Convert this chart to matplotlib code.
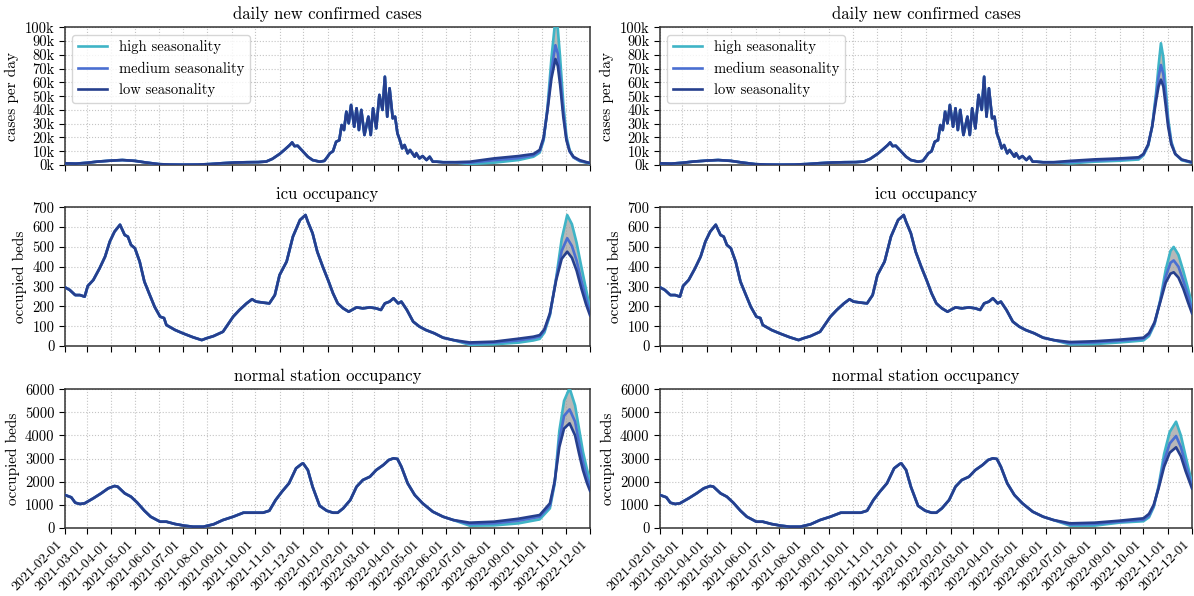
import matplotlib
matplotlib.use("Agg")
import matplotlib.pyplot as plt
import matplotlib.dates as mdates
from matplotlib.ticker import FuncFormatter, MultipleLocator
import pandas as pd

plt.rcParams['font.family'] = 'serif'
plt.rcParams['font.serif'] = ['cmr10']
plt.rcParams['axes.formatter.use_mathtext'] = True
plt.rcParams['mathtext.fontset'] = 'cm'

# ---- shared history (same in both columns) ----
case_hist_dates = ["2021-02-01", "2021-02-15", "2021-03-01", "2021-03-15", "2021-04-01", "2021-04-15",
                   "2021-05-01", "2021-05-15", "2021-06-01", "2021-06-15", "2021-07-01", "2021-07-20",
                   "2021-08-05", "2021-08-20", "2021-09-05", "2021-09-20", "2021-10-05", "2021-10-15",
                   "2021-10-23", "2021-11-01", "2021-11-07", "2021-11-14", "2021-11-17", "2021-11-20",
                   "2021-11-24", "2021-12-01", "2021-12-07", "2021-12-13", "2021-12-22", "2021-12-28",
                   "2022-01-01", "2022-01-04", "2022-01-08", "2022-01-12", "2022-01-16", "2022-01-19",
                   "2022-01-22", "2022-01-25", "2022-01-28", "2022-01-31", "2022-02-04", "2022-02-07",
                   "2022-02-10", "2022-02-13", "2022-02-17", "2022-02-22", "2022-02-25", "2022-02-28",
                   "2022-03-04", "2022-03-08", "2022-03-12", "2022-03-15", "2022-03-18", "2022-03-21",
                   "2022-03-25", "2022-03-28", "2022-03-31", "2022-04-03", "2022-04-06", "2022-04-09",
                   "2022-04-13", "2022-04-16", "2022-04-22", "2022-04-24", "2022-04-28", "2022-05-02",
                   "2022-05-07", "2022-05-11", "2022-05-15", "2022-05-20", "2022-05-28", "2022-06-10"]
case_hist = [1.2, 1.0, 1.6, 2.5, 3.2, 3.6,
             3.0, 1.8, 0.6, 0.3, 0.2, 0.3,
             0.7, 1.3, 1.8, 2.0, 2.1, 2.5,
             4.5, 8.0, 10.9, 14.5, 16.4, 13.7,
             14.0, 9.7, 6.0, 3.6, 2.4, 3.0,
             6.0, 8.5, 10.0, 16.9, 18.0, 29.0,
             25.4, 38.7, 30.3, 43.6, 27.8, 41.2,
             25.4, 40.0, 21.8, 35.1, 21.8, 41.2,
             26.6, 50.9, 40.0, 64.1, 35.1, 55.7,
             33.9, 35.1, 23.0, 18.2, 12.1, 14.5,
             8.5, 10.9, 6.0, 8.5, 4.8, 6.5,
             3.6, 6.0, 2.4, 2.4, 2.0, 2.0]

icu_hist_dates = ["2021-02-01", "2021-02-07", "2021-02-14", "2021-02-20", "2021-02-26", "2021-03-02",
                  "2021-03-09", "2021-03-17", "2021-03-24", "2021-03-30", "2021-04-05", "2021-04-12",
                  "2021-04-18", "2021-04-22", "2021-04-26", "2021-05-01", "2021-05-07", "2021-05-13",
                  "2021-05-19", "2021-05-26", "2021-06-02", "2021-06-07", "2021-06-10", "2021-06-21",
                  "2021-07-01", "2021-07-14", "2021-07-25", "2021-07-31", "2021-08-09", "2021-08-21",
                  "2021-09-03", "2021-09-11", "2021-09-20", "2021-09-27", "2021-10-02", "2021-10-11",
                  "2021-10-19", "2021-10-26", "2021-11-01", "2021-11-10", "2021-11-18", "2021-11-27",
                  "2021-12-04", "2021-12-07", "2021-12-13", "2021-12-19", "2021-12-26", "2022-01-02",
                  "2022-01-08", "2022-01-14", "2022-01-21", "2022-01-28", "2022-02-07", "2022-02-15",
                  "2022-02-24", "2022-03-04", "2022-03-10", "2022-03-15", "2022-03-21", "2022-03-26",
                  "2022-04-01", "2022-04-05", "2022-04-12", "2022-04-20", "2022-04-28", "2022-05-06",
                  "2022-05-17", "2022-05-28", "2022-06-10"]
icu_hist = [296, 283, 257, 257, 249, 303,
            333, 392, 451, 527, 577, 612,
            560, 552, 510, 493, 426, 325,
            266, 198, 148, 141, 106, 81,
            64, 44, 30, 39, 50, 72,
            148, 182, 215, 236, 224, 219,
            215, 257, 358, 426, 552, 636,
            661, 627, 569, 476, 400, 330,
            266, 215, 190, 173, 195, 190,
            195, 190, 182, 215, 224, 241,
            215, 224, 182, 123, 98, 81,
            64, 42, 30]

ward_hist_dates = ["2021-02-01", "2021-02-09", "2021-02-14", "2021-02-20", "2021-02-26", "2021-03-09",
                   "2021-03-19", "2021-03-28", "2021-04-05", "2021-04-09", "2021-04-18", "2021-04-26",
                   "2021-05-04", "2021-05-13", "2021-05-21", "2021-06-02", "2021-06-10", "2021-06-21",
                   "2021-07-03", "2021-07-14", "2021-07-27", "2021-08-09", "2021-08-21", "2021-09-03",
                   "2021-09-16", "2021-09-29", "2021-10-11", "2021-10-19", "2021-10-27", "2021-11-04",
                   "2021-11-13", "2021-11-22", "2021-11-29", "2021-12-01", "2021-12-07", "2021-12-13",
                   "2021-12-22", "2021-12-31", "2022-01-08", "2022-01-14", "2022-01-21", "2022-01-30",
                   "2022-02-07", "2022-02-15", "2022-02-24", "2022-03-04", "2022-03-13", "2022-03-20",
                   "2022-03-26", "2022-03-31", "2022-04-05", "2022-04-13", "2022-04-22", "2022-05-02",
                   "2022-05-15", "2022-05-28", "2022-06-10"]
ward_hist = [1417, 1317, 1084, 1027, 1057, 1274,
             1490, 1707, 1807, 1780, 1490, 1343,
             1084, 737, 477, 260, 260, 160,
             87, 43, 43, 147, 333, 477,
             650, 650, 650, 737, 1200, 1560,
             1924, 2575, 2761, 2790, 2500, 1777,
             950, 737, 650, 650, 840, 1200,
             1777, 2068, 2211, 2500, 2718, 2935,
             3008, 2980, 2645, 1924, 1417, 1057,
             694, 477, 333]

# ---- scenario projections, left column ----
case_left_dates = ["2022-06-10", "2022-07-01", "2022-08-01", "2022-09-01", "2022-09-20", "2022-09-28",
                   "2022-10-03", "2022-10-08", "2022-10-13", "2022-10-18", "2022-10-21", "2022-10-24",
                   "2022-10-28", "2022-11-01", "2022-11-05", "2022-11-10", "2022-11-18", "2022-11-27",
                   "2022-12-01"]
case_left_low = [2.0, 2.4, 4.8, 6.5, 8.0, 11.0, 20.0, 40.0, 63.0, 77.0, 72.0, 58.0, 35.0, 18.0, 10.0, 6.0, 3.5, 2.0, 1.5]
case_left_med = [2.0, 1.6, 3.5, 5.0, 7.0, 10.0, 19.0, 41.0, 69.0, 87.0, 81.0, 65.0, 39.0, 19.0, 10.0, 5.5, 3.0, 1.8, 1.3]
case_left_high = [2.0, 0.7, 1.7, 3.6, 6.0, 9.0, 18.0, 42.0, 78.0, 106.0, 99.0, 78.0, 45.0, 21.0, 11.0, 5.5, 2.8, 1.6, 1.1]

icu_left_dates = ["2022-06-10", "2022-07-01", "2022-08-01", "2022-09-01", "2022-09-20", "2022-09-28",
                  "2022-10-04", "2022-10-11", "2022-10-19", "2022-10-26", "2022-11-02", "2022-11-08",
                  "2022-11-14", "2022-11-20", "2022-11-26", "2022-12-01"]
icu_left_low = [30, 18, 22, 37, 47, 55, 85, 165, 333, 440, 476, 445, 380, 290, 210, 155]
icu_left_med = [30, 12, 17, 28, 40, 48, 78, 160, 340, 480, 544, 505, 430, 330, 240, 172]
icu_left_high = [30, 6, 9, 17, 28, 36, 68, 155, 345, 540, 661, 615, 520, 400, 285, 190]

ward_left_dates = ["2022-06-10", "2022-07-01", "2022-08-01", "2022-09-01", "2022-09-28", "2022-10-11",
                   "2022-10-17", "2022-10-23", "2022-10-29", "2022-11-05", "2022-11-12", "2022-11-17",
                   "2022-11-22", "2022-11-27", "2022-12-01"]
ward_left_low = [333, 218, 261, 390, 550, 1057, 2000, 3500, 4300, 4525, 4000, 3225, 2500, 1950, 1600]
ward_left_med = [333, 160, 188, 305, 477, 950, 1950, 3800, 4850, 5130, 4600, 3700, 2850, 2200, 1800]
ward_left_high = [333, 87, 100, 188, 360, 840, 1900, 4200, 5500, 6050, 5300, 4300, 3300, 2550, 2050]

# ---- scenario projections, right column ----
case_right_dates = ["2022-06-10", "2022-07-01", "2022-08-01", "2022-09-01", "2022-09-25", "2022-10-01",
                    "2022-10-07", "2022-10-12", "2022-10-17", "2022-10-20", "2022-10-23", "2022-10-26",
                    "2022-10-29", "2022-11-01", "2022-11-05", "2022-11-10", "2022-11-18", "2022-12-01"]
case_right_low = [2.4, 3.0, 4.1, 4.8, 5.6, 8.0, 15.0, 28.0, 47.0, 57.0, 62.0, 57.0, 43.0, 28.0, 15.0, 8.0, 4.0, 2.0]
case_right_med = [2.4, 2.2, 3.2, 4.0, 5.0, 7.5, 14.5, 28.0, 50.0, 64.0, 72.6, 66.0, 49.0, 31.0, 16.0, 8.0, 3.8, 1.8]
case_right_high = [2.4, 1.2, 2.4, 3.1, 4.0, 7.0, 14.0, 28.0, 53.0, 72.0, 88.4, 78.0, 56.0, 34.0, 17.0, 8.0, 3.5, 1.6]

icu_right_dates = ["2022-06-10", "2022-07-01", "2022-08-01", "2022-09-01", "2022-10-01", "2022-10-08",
                   "2022-10-15", "2022-10-22", "2022-10-29", "2022-11-04", "2022-11-08", "2022-11-14",
                   "2022-11-20", "2022-11-26", "2022-12-01"]
icu_right_low = [30, 20, 24, 32, 42, 65, 120, 220, 320, 365, 372, 345, 290, 220, 165]
icu_right_med = [30, 14, 18, 26, 36, 58, 115, 225, 350, 420, 432, 400, 330, 255, 185]
icu_right_high = [30, 8, 10, 18, 28, 50, 110, 230, 385, 480, 500, 460, 380, 290, 210]

ward_right_dates = ["2022-06-10", "2022-07-01", "2022-08-01", "2022-09-01", "2022-10-01", "2022-10-08",
                    "2022-10-14", "2022-10-20", "2022-10-27", "2022-11-03", "2022-11-11", "2022-11-17",
                    "2022-11-23", "2022-12-01"]
ward_right_low = [340, 190, 218, 305, 407, 600, 1000, 1700, 2645, 3250, 3485, 3100, 2450, 1700]
ward_right_med = [340, 140, 160, 260, 340, 520, 950, 1750, 2900, 3650, 3975, 3500, 2750, 1820]
ward_right_high = [340, 87, 90, 220, 280, 450, 900, 1800, 3200, 4150, 4595, 4000, 3100, 1924]

titles = ["daily new confirmed cases", "icu occupancy", "normal station occupancy"]
ylabels = ["cases per day", "occupied beds", "occupied beds"]
scenario_names = ["high seasonality", "medium seasonality", "low seasonality"]
colors = ["#3fb4c6", "#4a6fd1", "#263f8d"]

W, H = 1194, 596
fig = plt.figure(figsize=(W / 100, H / 100), dpi=100)

rows_px = [(27.3, 165), (207.3, 346), (389.3, 527.7)]
cols_px = [(65, 590), (660, 1192)]

panels = [
    [(case_hist_dates, case_hist, 1000, case_left_dates, case_left_high, case_left_med, case_left_low),
     (case_hist_dates, case_hist, 1000, case_right_dates, case_right_high, case_right_med, case_right_low)],
    [(icu_hist_dates, icu_hist, 1, icu_left_dates, icu_left_high, icu_left_med, icu_left_low),
     (icu_hist_dates, icu_hist, 1, icu_right_dates, icu_right_high, icu_right_med, icu_right_low)],
    [(ward_hist_dates, ward_hist, 1, ward_left_dates, ward_left_high, ward_left_med, ward_left_low),
     (ward_hist_dates, ward_hist, 1, ward_right_dates, ward_right_high, ward_right_med, ward_right_low)],
]
ylims = [(0, 100000), (0, 700), (0, 6000)]
ysteps = [10000, 100, 1000]

xmin = pd.Timestamp("2021-02-01")
xmax = pd.Timestamp("2022-12-01")

first = None
for r in range(3):
    for c in range(2):
        y0, y1 = rows_px[r]
        x0, x1 = cols_px[c]
        ax = fig.add_axes([x0 / W, 1 - y1 / H, (x1 - x0) / W, (y1 - y0) / H], sharex=first)
        if first is None:
            first = ax
        hd, hv, scale, td, th, tm, tl = panels[r][c]
        hd = pd.to_datetime(hd)
        td = pd.to_datetime(td)
        hv = [v * scale for v in hv]
        series = [[v * scale for v in th], [v * scale for v in tm], [v * scale for v in tl]]

        ax.fill_between(td, series[0], series[2], color="#9a9a9a", alpha=0.7, lw=0, zorder=2)
        handles = []
        for name, col, vals in zip(scenario_names, colors, series):
            ln, = ax.plot(list(hd) + list(td[1:]), hv + vals[1:], color=col, lw=1.9, label=name, zorder=3)
            handles.append(ln)

        ax.set_xlim(xmin, xmax)
        ax.set_ylim(*ylims[r])
        ax.yaxis.set_major_locator(MultipleLocator(ysteps[r]))
        if r == 0:
            ax.yaxis.set_major_formatter(FuncFormatter(lambda v, p: f"{int(round(v / 1000))}k"))
            ax.legend(handles=handles, loc="upper left", fontsize=10.5, framealpha=0.8)
        else:
            ax.yaxis.set_major_formatter(FuncFormatter(lambda v, p: f"{int(v)}"))
        ax.xaxis.set_major_locator(mdates.MonthLocator())
        ax.xaxis.set_major_formatter(mdates.DateFormatter("%Y-%m-%d"))
        ax.grid(True, linestyle=":", color="#c4c4c4", linewidth=0.8)
        ax.set_axisbelow(True)
        ax.set_title(titles[r], fontsize=12)
        ax.set_ylabel(ylabels[r], fontsize=11)
        ax.tick_params(axis="y", labelsize=10.5, direction="out", length=4)
        ax.tick_params(axis="x", labelsize=10, direction="out", length=4)
        for s in ax.spines.values():
            s.set_color("#333333")
            s.set_linewidth(1.1)
        if r < 2:
            ax.tick_params(labelbottom=False)
        else:
            for lab in ax.get_xticklabels():
                lab.set_rotation(45)
                lab.set_ha("right")

fig.savefig("out.png", dpi=100)
